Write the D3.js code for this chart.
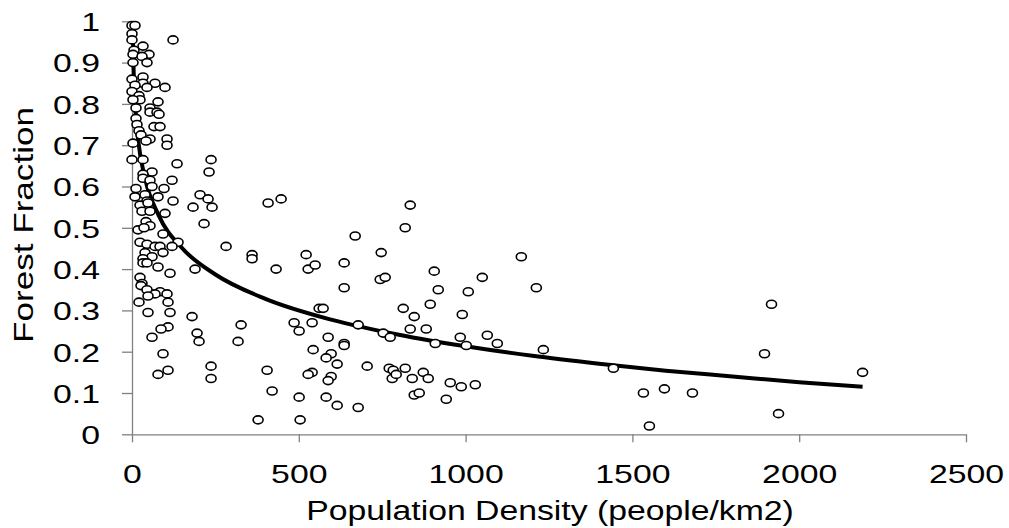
<!DOCTYPE html>
<html>
<head>
<meta charset="utf-8">
<script src="https://cdn.jsdelivr.net/npm/d3@7"></script>
<style>
  body { margin: 0; background: #fff; }
  text { font-family: "Liberation Sans", Arial, sans-serif; fill: #000; }
</style>
</head>
<body>
<div id="canvas"></div>
<script>
// densidad de poblacion (personas/km2) de cada punto
const density = [
  0, 9, 0, 123, 0, 33, 6, 51, 3, 30, 45, 3, 0, 33, 33, 69, 99, 45, 9, 0,
  21, 24, 3, 78, 54, 12, 54, 75, 81, 12, 15, 66, 84, 21, 27, 54, 42, 105, 105, 3,
  0, 33, 135, 237, 231, 60, 33, 33, 120, 54, 12, 96, 60, 9, 39, 78, 45, 123, 204, 228,
  183, 240, 24, 48, 30, 54, 99, 42, 216, 54, 18, 36, 93, 24, 138, 45, 69, 84, 120, 282,
  93, 39, 60, 33, 33, 45, 78, 114, 189, 24, 30, 27, 45, 84, 105, 69, 48, 21, 108, 48,
  114, 180, 108, 87, 327, 60, 195, 201, 318, 93, 78, 108, 237, 237, 360, 360, 408, 447, 432, 405,
  420, 501, 378, 504, 522, 528, 549, 486, 501, 540, 561, 573, 588, 543, 597, 582, 615, 636, 636, 540,
  528, 597, 588, 582, 615, 669, 636, 636, 678, 705, 678, 747, 744, 759, 834, 819, 813, 846, 834, 882,
  753, 774, 771, 783, 780, 792, 819, 840, 873, 888, 846, 861, 906, 918, 894, 909, 1008, 1050, 1167, 990,
  984, 1002, 1065, 1095, 954, 987, 1029, 942, 1212, 1233, 1443, 1533, 1596, 1680, 1551, 1917, 1896, 2190, 1938
];

// fraccion de bosque de cada punto
const forest = [
  0.99, 0.99, 0.97, 0.955, 0.955, 0.94, 0.93, 0.92, 0.92, 0.915, 0.90, 0.90, 0.86, 0.865, 0.85, 0.85, 0.84, 0.84, 0.845, 0.83,
  0.82, 0.81, 0.81, 0.805, 0.79, 0.79, 0.78, 0.78, 0.775, 0.765, 0.75, 0.745, 0.745, 0.735, 0.725, 0.715, 0.71, 0.715, 0.70, 0.705,
  0.665, 0.665, 0.655, 0.665, 0.635, 0.635, 0.63, 0.62, 0.615, 0.615, 0.595, 0.595, 0.60, 0.575, 0.58, 0.575, 0.565, 0.565, 0.58, 0.57,
  0.55, 0.55, 0.555, 0.56, 0.54, 0.54, 0.535, 0.515, 0.51, 0.505, 0.495, 0.50, 0.485, 0.465, 0.465, 0.46, 0.455, 0.455, 0.455, 0.455,
  0.44, 0.44, 0.43, 0.425, 0.415, 0.415, 0.405, 0.39, 0.40, 0.38, 0.365, 0.36, 0.35, 0.345, 0.34, 0.34, 0.335, 0.32, 0.32, 0.295,
  0.295, 0.285, 0.26, 0.255, 0.265, 0.235, 0.245, 0.225, 0.225, 0.195, 0.145, 0.155, 0.165, 0.135, 0.435, 0.425, 0.56, 0.57, 0.40, 0.155,
  0.105, 0.09, 0.035, 0.035, 0.435, 0.40, 0.41, 0.27, 0.25, 0.27, 0.305, 0.305, 0.235, 0.205, 0.195, 0.185, 0.17, 0.22, 0.215, 0.15,
  0.145, 0.14, 0.13, 0.09, 0.07, 0.48, 0.415, 0.355, 0.265, 0.165, 0.065, 0.44, 0.375, 0.38, 0.555, 0.50, 0.305, 0.285, 0.255, 0.255,
  0.245, 0.235, 0.16, 0.155, 0.135, 0.145, 0.16, 0.135, 0.15, 0.135, 0.095, 0.10, 0.395, 0.35, 0.315, 0.22, 0.345, 0.38, 0.43, 0.29,
  0.235, 0.215, 0.24, 0.22, 0.125, 0.115, 0.12, 0.085, 0.355, 0.205, 0.16, 0.10, 0.11, 0.10, 0.02, 0.315, 0.195, 0.15, 0.05
];

// linea de tendencia
const trendX = [1.5, 5, 10, 20, 40, 80, 150, 250, 400, 600, 800, 1000, 1200, 1400, 1600, 1800, 2000, 2190];
const trendY = [1.0, 0.877, 0.79, 0.703, 0.617, 0.53, 0.451, 0.387, 0.328, 0.277, 0.241, 0.213, 0.19, 0.171, 0.154, 0.14, 0.126, 0.115];

const xTicks = [0, 500, 1000, 1500, 2000, 2500];
const yTicks = [0, 0.1, 0.2, 0.3, 0.4, 0.5, 0.6, 0.7, 0.8, 0.9, 1];

const width = 1009, height = 528;
const stretch = 1.3; // el texto del original esta estirado a lo ancho

var svg = d3.select("#canvas")
    .append("svg")
    .attr("width", width)
    .attr("height", height);

var x = d3.scaleLinear().domain([0, 2500]).range([132, 966]);
var y = d3.scaleLinear().domain([0, 1]).range([434.3, 21.3]);

var xAxis = svg.append("g")
    .attr("transform", "translate(0,434.3)")
    .call(d3.axisBottom(x).tickValues(xTicks).tickSize(8).tickSizeOuter(0).tickFormat(d3.format("d")));

xAxis.selectAll("text")
    .attr("y", 0)
    .attr("dy", 0)
    .attr("transform", "translate(0,49) scale(" + stretch + ",1)")
    .style("font-size", "26px");

var yAxis = svg.append("g")
    .attr("transform", "translate(132,0)")
    .call(d3.axisLeft(y).tickValues(yTicks).tickSize(10).tickSizeOuter(0).tickFormat(d => d3.format("")(+d.toFixed(1))));

yAxis.selectAll("text")
    .attr("x", 0)
    .attr("dy", "0.36em")
    .attr("transform", "translate(-32,0) scale(" + stretch + ",1)")
    .style("font-size", "26px");

svg.selectAll(".domain, .tick line")
    .attr("stroke", "#808080")
    .attr("stroke-width", 1.3);

// titulos de los ejes
svg.append("text")
    .attr("text-anchor", "middle")
    .attr("transform", "translate(550,520) scale(1.25,1)")
    .style("font-size", "27px")
    .text("Population Density (people/km2)");

svg.append("text")
    .attr("text-anchor", "middle")
    .attr("transform", "translate(33,225) rotate(-90) scale(1.3,1)")
    .style("font-size", "27px")
    .text("Forest Fraction");

// linea de tendencia
var trend = trendX.map((d, i) => [d, trendY[i]]);
svg.append("path")
    .datum(trend)
    .attr("fill", "none")
    .attr("stroke", "#000")
    .attr("stroke-width", 4)
    .attr("stroke-linejoin", "round")
    .attr("d", d3.line().x(d => x(d[0])).y(d => y(d[1])).curve(d3.curveMonotoneX));

// puntos
var pts = density.map((d, i) => [d, forest[i]]);
svg.selectAll("ellipse.pt")
    .data(pts)
    .enter()
    .append("ellipse")
    .attr("class", "pt")
    .attr("cx", d => x(d[0]))
    .attr("cy", d => y(d[1]))
    .attr("rx", 5)
    .attr("ry", 4)
    .style("fill", "white")
    .style("stroke", "black")
    .style("stroke-width", 1.6);
</script>
</body>
</html>
